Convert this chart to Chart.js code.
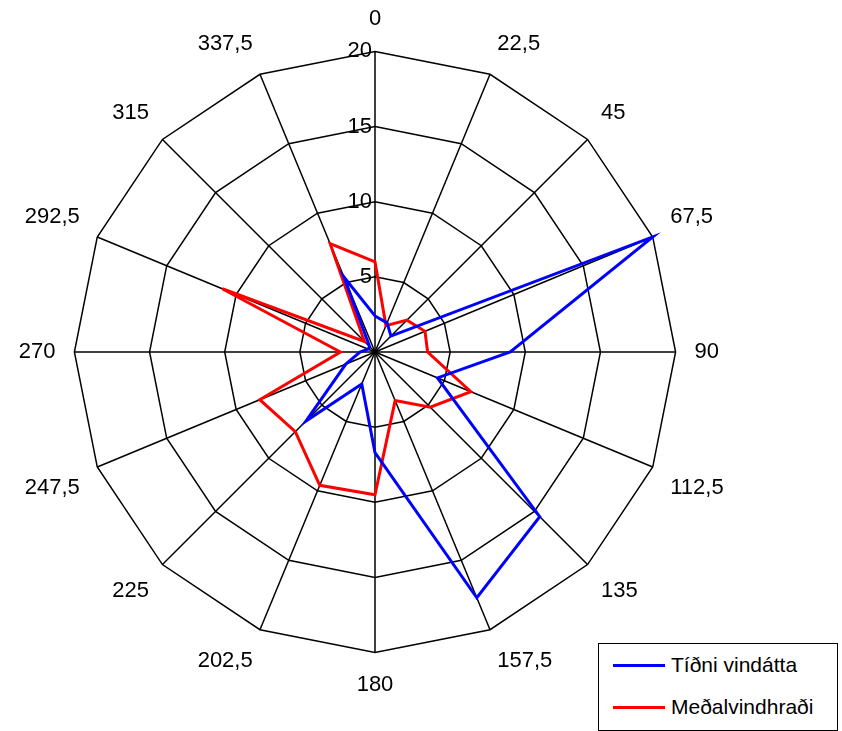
<!DOCTYPE html>
<html><head><meta charset="utf-8">
<script src="https://cdn.jsdelivr.net/npm/chart.js@4"></script>
<style>
body{margin:0;background:#fff;font-family:"Liberation Sans",Arial,sans-serif}
#wrap{position:relative;width:842px;height:731px}
#legend{position:absolute;left:598px;top:643px;width:240px;height:88px;border:1px solid #000;box-sizing:border-box;background:#fff;font-size:21px}
.row{display:flex;align-items:center;height:42px;padding-left:14px}
.sw{width:52px;height:3px;margin-right:6px}
</style></head><body>
<div id="wrap"><canvas id="c" width="842" height="731"></canvas>
<div id="legend">
<div class="row"><span class="sw" style="background:#0000ff"></span>Tíðni vindátta</div>
<div class="row"><span class="sw" style="background:#ff0000"></span>Meðalvindhraði</div>
</div></div>
<script>
const directions = ['0','22,5','45','67,5','90','112,5','135','157,5','180','202,5','225','247,5','270','292,5','315','337,5'];
const tidni = [2.4, 2.1, 1.5, 20, 9, 4.5, 15.5, 17.7, 6.7, 2.3, 6.5, 2.1, 1, 0.5, 0.5, 5.4];
const medal = [6, 1.9, 3, 3.6, 3.5, 6.9, 5.2, 3.5, 9.5, 9.6, 7.5, 8.3, 2.3, 11, 1, 7.8];

new Chart(document.getElementById('c'), {
    type: 'radar',
    data: {
        labels: directions,
        datasets: [
            { label: 'Tíðni vindátta', data: tidni, borderColor: '#0000ff', borderWidth: 3, fill: false, pointRadius: 0, tension: 0 },
            { label: 'Meðalvindhraði', data: medal, borderColor: '#ff0000', borderWidth: 3, fill: false, pointRadius: 0, tension: 0 }
        ]
    },
    options: {
        responsive: false,
        animation: false,
        layout: { padding: { left: 0, right: 100, top: 6, bottom: 32 } },
        plugins: { legend: { display: false }, tooltip: { enabled: false } },
        scales: {
            r: {
                min: 0, max: 20,
                ticks: {
                    stepSize: 5, color: '#000', backdropColor: 'transparent', z: 1,
                    font: { size: 22, family: 'Liberation Sans' },
                    callback: v => (v < 10 ? v + '   ' : v + '     ')
                },
                grid: { color: '#000', lineWidth: 1.5 },
                angleLines: { color: '#000', lineWidth: 1.5 },
                pointLabels: { color: '#000', padding: 6, font: { size: 22, family: 'Liberation Sans' } }
            }
        }
    }
});
</script></body></html>
